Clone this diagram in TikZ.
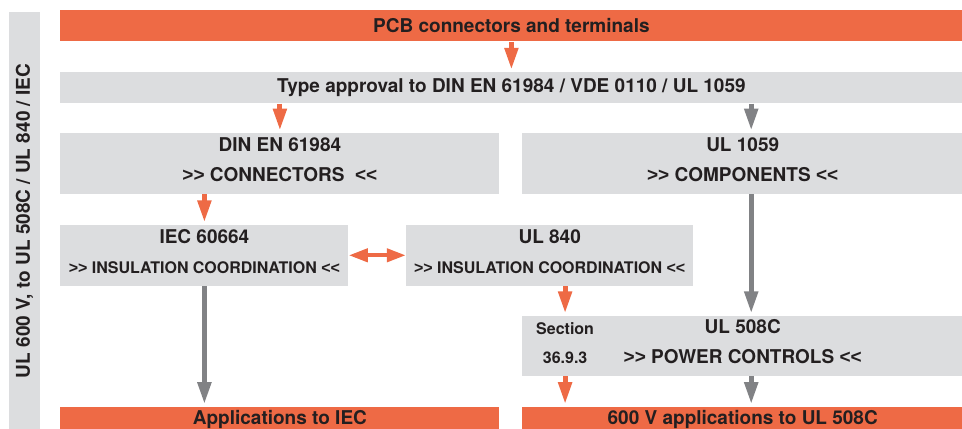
\documentclass[tikz,border=0pt]{standalone}
\usepackage{fontspec}
\setmainfont{TeX Gyre Heros}
\newfontfamily\chevfont{Liberation Sans}
\usetikzlibrary{positioning,arrows.meta}
\definecolor{boxorange}{HTML}{EE6A45}
\definecolor{boxgrey}{HTML}{DCDDDF}
\definecolor{arrowgrey}{HTML}{818285}
\definecolor{textdark}{HTML}{231F20}
\newcommand{\gtgt}{{\chevfont\bfseries >{}>}}
\newcommand{\ltlt}{{\chevfont\bfseries <{}<}}
\tikzset{
  band/.style={fill=boxgrey, inner sep=0pt, text=textdark, align=center,
               font=\fontsize{9.5pt}{15pt}\selectfont\bfseries},
  orangeband/.style={band, fill=boxorange},
  twoline/.style={text height=18pt, text depth=0pt},
  smalltext/.style={font=\fontsize{8pt}{14.5pt}\selectfont\bfseries},
  fwd/.style={-{Triangle[length=11pt, width=6.5pt]}, line width=2.5pt, color=boxorange,
              shorten >=1pt},
  fwdgrey/.style={fwd, color=arrowgrey},
  both/.style={{Triangle[length=9.5pt, width=6.5pt]}-{Triangle[length=9.5pt, width=6.5pt]},
               line width=2pt, color=boxorange},
}

\begin{document}
\begin{tikzpicture}[x=0.5pt, y=-0.5pt]
  \useasboundingbox (0,0) rectangle (962,428);

  \node[band, rotate=90, minimum width=209pt, minimum height=15.5pt] (side) at (24.5,221)
    {UL 600 V, to UL 508C / UL 840 / IEC};

  \node[orangeband, anchor=north west, minimum width=451pt, minimum height=15.5pt] (pcb) at (60,10)
    {PCB connectors and terminals};
  \node[band, minimum width=451pt, minimum height=15.5pt] (approval) [below=15pt of pcb]
    {Type approval to DIN EN 61984 / VDE 0110 / UL 1059};
  \node[band, twoline, minimum width=219.5pt, minimum height=30.5pt] (din) [below right=14.5pt and 0pt of approval.south west]
    {DIN EN 61984\\\gtgt{} CONNECTORS~~\ltlt};
  \node[band, twoline, minimum width=220.5pt, minimum height=30.5pt] (ul1059) [right=11pt of din]
    {UL 1059\\\gtgt{} COMPONENTS \ltlt};
  \node[band, twoline, minimum width=144pt, minimum height=30.5pt] (iec) [below right=15pt and 0pt of din.south west]
    {IEC 60664\\{\fontsize{8pt}{15pt}\selectfont \gtgt{} INSULATION COORDINATION \ltlt}};
  \node[band, twoline, minimum width=143.5pt, minimum height=30.5pt] (ul840) [right=28.5pt of iec]
    {UL 840\\{\fontsize{8pt}{15pt}\selectfont \gtgt{} INSULATION COORDINATION \ltlt}};
  \node[band, twoline, minimum width=220.5pt, minimum height=30pt] (ul508c) [below right=60.5pt and 0pt of ul1059.south west]
    {UL 508C\\\gtgt{} POWER CONTROLS \ltlt};
  \node[smalltext, twoline, inner sep=0pt, align=center, text=textdark] (sec) [right=7pt of ul508c.west]
    {Section\\36.9.3};
  \node[orangeband, minimum width=219.5pt, minimum height=12.5pt] (appiec) [below right=60pt and 0pt of iec.south west]
    {Applications to IEC};
  \node[orangeband, minimum width=220.5pt, minimum height=12.5pt] (app600) [below right=15pt and 0pt of ul508c.south west]
    {600 V applications to UL 508C};

  \coordinate (greyx) at ([xshift=4.25pt]ul1059.north); % grey arrows sit right of centre

  \draw[fwd] (pcb) -- (approval);
  \draw[fwd] (approval.south -| din.north) -- (din);
  \draw[fwdgrey] (approval.south -| greyx) -- (greyx);
  \draw[fwd] (din.south -| iec.north) -- (iec);
  \draw[both] (iec) -- (ul840);
  \draw[fwdgrey] (iec) -- (appiec.north -| iec.south);
  \draw[fwdgrey] (ul1059.south -| greyx) -- (ul508c.north -| greyx);
  \draw[fwd] (ul840.south -| sec) -- (ul508c.north -| sec);
  \draw[fwd] (ul508c.south -| sec) -- (app600.north -| sec);
  \draw[fwdgrey] (ul508c.south -| greyx) -- (app600.north -| greyx);

\end{tikzpicture}
\end{document}
